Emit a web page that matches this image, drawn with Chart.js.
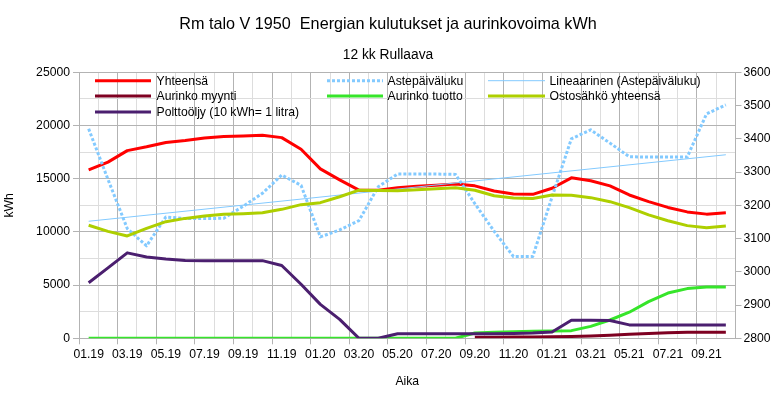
<!DOCTYPE html>
<html>
<head>
<meta charset="utf-8">
<script src="https://cdn.jsdelivr.net/npm/chart.js@4/dist/chart.umd.min.js"></script>
<style>
  html, body { margin: 0; padding: 0; background: #ffffff; }
  #c { display: block; }
</style>
</head>
<body>
<canvas id="c" width="776" height="394"></canvas>
<script>
// ---------- DATA ----------
const months = [
  '01.19','02.19','03.19','04.19','05.19','06.19','07.19','08.19','09.19','10.19','11.19','12.19',
  '01.20','02.20','03.20','04.20','05.20','06.20','07.20','08.20','09.20','10.20','11.20','12.20',
  '01.21','02.21','03.21','04.21','05.21','06.21','07.21','08.21','09.21','10.21'
];
const yhteensa = [15820, 16560, 17640, 18000, 18410, 18580, 18830, 18960, 19020, 19080, 18860, 17770,
                  15920, 14890, 13920, 13920, 14150, 14300, 14390, 14500, 14330, 13850, 13560, 13530,
                  14100, 15080, 14810, 14330, 13470, 12850, 12300, 11880, 11670, 11800];
const astepaivaluku = [3430, 3278, 3130, 3078, 3165, 3160, 3160, 3161, 3197, 3236, 3291, 3260,
                       3105, 3126, 3154, 3256, 3294, 3294, 3294, 3293, 3205, 3122, 3046, 3046,
                       3225, 3400, 3427, 3387, 3346, 3345, 3345, 3345, 3475, 3502];
const trendEnds = [3152, 3352];           // Lineaarinen (Astepäiväluku), first and last month
const aurinkoMyynti = [null, null, null, null, null, null, null, null, null, null, null, null,
                       null, null, null, null, null, null, null, null, 100, 110, 120, 130,
                       150, 170, 220, 290, 380, 460, 520, 560, 580, 580];
const aurinkoTuotto = [0, 0, 0, 0, 0, 0, 0, 0, 0, 0, 0, 0,
                       0, 0, 0, 0, 0, 0, 0, 0, 500, 580, 620, 660,
                       690, 720, 1120, 1720, 2450, 3450, 4250, 4670, 4830, 4810];
const ostosahko = [10620, 10050, 9620, 10330, 10960, 11270, 11490, 11650, 11710, 11800, 12120, 12560,
                   12750, 13300, 13920, 13880, 13860, 13950, 14060, 14140, 13920, 13400, 13190, 13140,
                   13470, 13450, 13220, 12840, 12280, 11600, 11050, 10590, 10400, 10550];
const polttooljy = [5220, 6620, 8030, 7640, 7450, 7320, 7300, 7300, 7300, 7300, 6840, 5080,
                    3190, 1780, 0, 0, 420, 420, 420, 420, 420, 430, 460, 500,
                    600, 1700, 1700, 1680, 1260, 1260, 1260, 1260, 1260, 1260];
const leftTicks = [0, 5000, 10000, 15000, 20000, 25000];
const rightTicks = [2800, 2900, 3000, 3100, 3200, 3300, 3400, 3500, 3600];

// ---------- STYLE ----------
const FONT = '"Liberation Sans", Arial, sans-serif';
const MAJOR = '#b3b3b3';
const MINOR = '#dddddd';
const NONE = 'rgba(0,0,0,0)';

const datasets = [
  { label: 'Yhteensä', data: yhteensa, borderColor: '#ff0000', borderWidth: 3, yAxisID: 'y' },
  { label: 'Astepäiväluku', data: astepaivaluku, borderColor: '#83caff', borderWidth: 3, borderDash: [3, 2], borderCapStyle: 'butt', yAxisID: 'y1' },
  { label: 'Lineaarinen (Astepäiväluku)', data: [{x: months[0], y: trendEnds[0]}, {x: months[months.length - 1], y: trendEnds[1]}], borderColor: '#83caff', borderWidth: 1, yAxisID: 'y1' },
  { label: 'Aurinko myynti', data: aurinkoMyynti, borderColor: '#7e0021', borderWidth: 3, yAxisID: 'y' },
  { label: 'Aurinko tuotto', data: aurinkoTuotto, borderColor: '#36e52a', borderWidth: 3, yAxisID: 'y' },
  { label: 'Ostosähkö yhteensä', data: ostosahko, borderColor: '#aecf00', borderWidth: 3, yAxisID: 'y' },
  { label: 'Polttoöljy (10 kWh= 1 litra)', data: polttooljy, borderColor: '#4b1f6f', borderWidth: 3, yAxisID: 'y' }
];
datasets.forEach((d, i) => {
  d.pointRadius = 0;
  d.pointHoverRadius = 0;
  d.tension = 0;
  d.fill = false;
  d.borderJoinStyle = 'round';
  d.order = 20 - i;            // later series drawn on top
  d.backgroundColor = d.borderColor;
});

// Legend laid over the top of the plot area, 3 columns
const insideLegend = {
  id: 'insideLegend',
  afterDatasetsDraw(chart) {
    const ctx = chart.ctx;
    const colSwatch = [[95, 151], [327, 383], [488, 545]];
    const colText = [156.5, 387.5, 549.5];
    const rowY = [80.7, 96, 112];
    ctx.save();
    ctx.font = '12.2px ' + FONT;
    ctx.textBaseline = 'middle';
    ctx.textAlign = 'left';
    chart.data.datasets.forEach((d, i) => {
      const col = i % 3, row = Math.floor(i / 3);
      const y = rowY[row];
      ctx.beginPath();
      ctx.strokeStyle = d.borderColor;
      ctx.lineWidth = d.borderWidth;
      ctx.lineCap = 'butt';
      ctx.setLineDash(d.borderDash || []);
      ctx.moveTo(colSwatch[col][0], y);
      ctx.lineTo(colSwatch[col][1], y);
      ctx.stroke();
      ctx.setLineDash([]);
      ctx.fillStyle = '#000000';
      ctx.fillText(d.label, colText[col], y + 0.5);
    });
    ctx.restore();
  }
};

new Chart(document.getElementById('c'), {
  type: 'line',
  data: { labels: months, datasets: datasets },
  plugins: [insideLegend],
  options: {
    responsive: false,
    animation: false,
    devicePixelRatio: 1,
    layout: { padding: 0 },
    plugins: {
      legend: { display: false },
      tooltip: { enabled: false },
      title: {
        display: true,
        text: 'Rm talo V 1950  Energian kulutukset ja aurinkovoima kWh',
        color: '#000000',
        font: { family: FONT, size: 16.2, weight: 'normal', lineHeight: 1.2 },
        padding: { top: 14.8, bottom: 12.5 }
      },
      subtitle: {
        display: true,
        text: '12 kk Rullaava',
        color: '#000000',
        font: { family: FONT, size: 13.8, weight: 'normal', lineHeight: 1.2 },
        padding: { top: 0, bottom: 9 }
      }
    },
    scales: {
      x: {
        type: 'category',
        offset: true,
        afterFit: s => { s.height = 394 - 338.3; },
        grid: {
          offset: true,
          drawTicks: true,
          tickLength: 6,
          color: c => (c.index % 2 === 0 ? MAJOR : MINOR),
          tickColor: c => (c.index % 2 === 0 ? MAJOR : NONE)
        },
        border: { color: MAJOR },
        ticks: {
          autoSkip: false,
          maxRotation: 0,
          minRotation: 0,
          padding: 3.5,
          color: '#000000',
          font: { family: FONT, size: 12.2 },
          callback: function (v, i) { return i % 2 === 0 ? months[i] : ''; }
        },
        title: {
          display: true,
          text: 'Aika',
          color: '#000000',
          font: { family: FONT, size: 12.2 },
          padding: { top: 4, bottom: 5 }
        }
      },
      y: {
        position: 'left',
        min: 0,
        max: 25000,
        afterFit: s => { s.width = 79; },
        grid: {
          tickLength: 6,
          color: c => (c.tick && c.tick.value % 5000 === 0 ? MAJOR : MINOR),
          tickColor: c => (c.tick && c.tick.value % 5000 === 0 ? MAJOR : NONE)
        },
        border: { color: MAJOR },
        ticks: {
          stepSize: 2500,
          padding: 3,
          color: '#000000',
          font: { family: FONT, size: 12.2 },
          callback: v => (leftTicks.includes(v) ? String(v) : '')
        },
        title: {
          display: true,
          text: 'kWh',
          color: '#000000',
          font: { family: FONT, size: 12.2 },
          padding: { top: 2.8, bottom: 0 }
        }
      },
      y1: {
        position: 'right',
        min: rightTicks[0],
        max: rightTicks[rightTicks.length - 1],
        afterFit: s => { s.width = 776 - 735.5; },
        grid: { drawOnChartArea: false, tickLength: 6, tickColor: MAJOR },
        border: { color: MAJOR },
        ticks: {
          stepSize: 100,
          padding: 2,
          color: '#000000',
          font: { family: FONT, size: 12.2 },
          callback: v => String(v)
        }
      }
    }
  }
});
</script>
</body>
</html>
